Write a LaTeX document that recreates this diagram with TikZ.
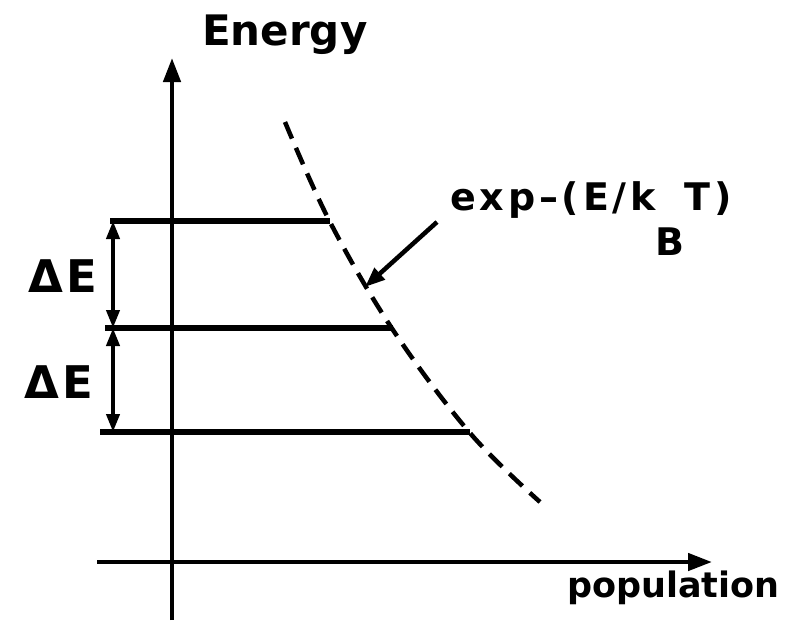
\documentclass[tikz,border=0pt]{standalone}
\usepackage{fontspec}
\setmainfont{DejaVu Sans}
\usetikzlibrary{arrows.meta}
\begin{document}
\begin{tikzpicture}[x=1pt,y=-1pt,
  axis/.style={line width=4.5pt,-{Triangle[length=24pt,width=17pt]}},
  level/.style={line width=6pt},
  gap/.style={line width=4pt,{Triangle[length=18pt,width=13pt]}-{Triangle[length=18pt,width=13pt]}},
  curve/.style={line width=4.5pt,dash pattern=on 18pt off 10pt},
  pointer/.style={line width=4.5pt,-{Triangle[length=20pt,width=15pt]}},
  lab/.style={inner sep=0pt,anchor=base west,font=\bfseries}]
\useasboundingbox (0,0) rectangle (800,641);
% axes
\coordinate (yb) at (172,620);
\coordinate (yt) at (172,58);
\coordinate (xl) at (97,562);
\coordinate (xr) at (712,562);
\draw[axis] (yb) -- (yt);
\draw[axis] (xl) -- (xr);
% levels
\coordinate (l1a) at (110,221); \coordinate (l1b) at (330,221);
\coordinate (l2a) at (105,328); \coordinate (l2b) at (393,328);
\coordinate (l3a) at (100,432); \coordinate (l3b) at (470,432);
\draw[level] (l1a) -- (l1b);
\draw[level] (l2a) -- (l2b);
\draw[level] (l3a) -- (l3b);
% exponential curve
\coordinate (c0) at (285,122);
\coordinate (c4) at (540,502);
\draw[curve] plot[smooth,tension=0.6] coordinates {(c0) (330,222) (393,330) (470,433) (c4)};
% Delta E arrows
\coordinate (g1) at (113,221);
\coordinate (g2) at (113,328);
\coordinate (g3) at (113,432);
\draw[gap] (g1) -- (g2);
\draw[gap] (g2) -- (g3);
% labels
\node[lab,font=\bfseries\fontsize{45}{48}\selectfont\addfontfeature{LetterSpace=8}] (de1) at (28,292) {ΔE};
\node[lab,font=\bfseries\fontsize{45}{48}\selectfont\addfontfeature{LetterSpace=8}] (de2) at (24,398) {ΔE};
\node[lab,font=\bfseries\fontsize{42}{46}\selectfont] (en) at (202,45) {Energy};
\node[lab,font=\bfseries\fontsize{35}{40}\selectfont] (pop) at (567,597) {population};
\node[lab,font=\bfseries\fontsize{38}{40}\selectfont\addfontfeature{LetterSpace=10}] (ex) at (450,210) {exp–(E/k\raisebox{-45pt}{B}T)};
\coordinate (ps) at (437,222);
\coordinate (pe) at (365,287);
\draw[pointer] (ps) -- (pe);
\end{tikzpicture}
\end{document}
